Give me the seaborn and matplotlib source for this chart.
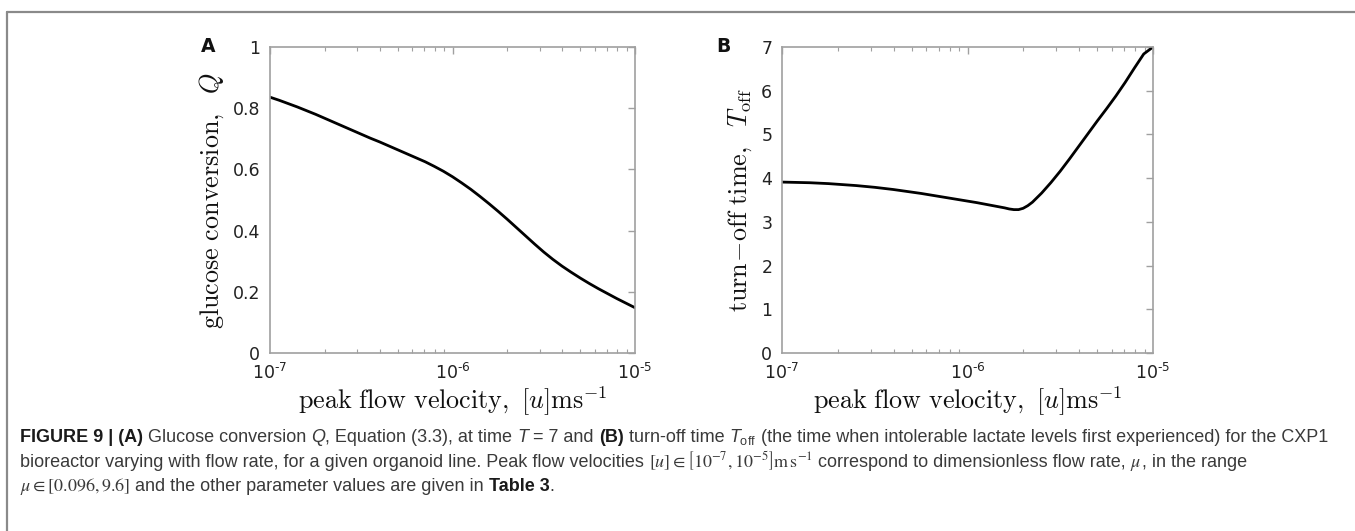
import numpy as np
import pandas as pd
import matplotlib
matplotlib.use("Agg")
import matplotlib.pyplot as plt
import seaborn as sns
from matplotlib.lines import Line2D

# ---------------- data ----------------
log_velocity_A = [-7.00, -6.95, -6.90, -6.85, -6.80, -6.75, -6.70, -6.65, -6.60, -6.55, -6.50,
                  -6.45, -6.40, -6.35, -6.30, -6.25, -6.20, -6.15, -6.10, -6.05, -6.00,
                  -5.95, -5.90, -5.85, -5.80, -5.75, -5.70, -5.65, -5.60, -5.55, -5.50,
                  -5.45, -5.40, -5.35, -5.30, -5.25, -5.20, -5.15, -5.10, -5.05, -5.00]
glucose_conversion = [0.836, 0.826, 0.815, 0.804, 0.792, 0.780, 0.767, 0.754, 0.741, 0.728, 0.715,
                      0.702, 0.690, 0.677, 0.664, 0.651, 0.638, 0.625, 0.610, 0.594, 0.576,
                      0.556, 0.535, 0.512, 0.488, 0.463, 0.437, 0.410, 0.383, 0.356, 0.330,
                      0.306, 0.284, 0.264, 0.245, 0.227, 0.210, 0.194, 0.178, 0.163, 0.148]

log_velocity_B = [-7.00, -6.95, -6.90, -6.85, -6.80, -6.75, -6.70, -6.65, -6.60, -6.55, -6.50,
                  -6.45, -6.40, -6.35, -6.30, -6.25, -6.20, -6.15, -6.10, -6.05, -6.00,
                  -5.95, -5.90, -5.85, -5.80, -5.775, -5.75, -5.725, -5.70, -5.675, -5.65,
                  -5.60, -5.55, -5.50, -5.45, -5.40, -5.35, -5.30, -5.25, -5.20, -5.15,
                  -5.10, -5.05, -5.025, -5.00]
turn_off_time = [3.910, 3.905, 3.900, 3.895, 3.885, 3.875, 3.860, 3.845, 3.830, 3.810, 3.790,
                 3.765, 3.740, 3.710, 3.680, 3.650, 3.615, 3.580, 3.545, 3.510, 3.475,
                 3.440, 3.400, 3.360, 3.320, 3.295, 3.280, 3.280, 3.310, 3.370, 3.450,
                 3.660, 3.900, 4.160, 4.440, 4.730, 5.020, 5.310, 5.590, 5.880, 6.190,
                 6.520, 6.840, 6.920, 7.000]

ylabel_A = r'$\mathrm{glucose\ conversion,}\ \ Q$'
ylabel_B = r'$\mathrm{turn\!-\!off\ time,}\ \ T_{\mathrm{off}}$'
xlabel = r'$\mathrm{peak\ flow\ velocity,}\ [u]\mathrm{ms}^{-1}$'
xtick_labels = [r'$10^{\text{-}7}$', r'$10^{\text{-}6}$', r'$10^{\text{-}5}$']

dfA = pd.DataFrame({"v": [10.0 ** e for e in log_velocity_A], "Q": glucose_conversion})
dfB = pd.DataFrame({"v": [10.0 ** e for e in log_velocity_B], "T": turn_off_time})

# ---------------- style ----------------
sns.set_style("white")
plt.rcParams['font.family'] = ['DejaVu Sans']
plt.rcParams['mathtext.rm'] = 'Liberation Sans'
plt.rcParams['mathtext.it'] = 'Liberation Sans:italic'
plt.rcParams['mathtext.bf'] = 'Liberation Sans:bold'

W, H = 1355, 531
fig = plt.figure(figsize=(W / 100, H / 100), dpi=100)

spine_col = '#a0a0a0'
tick_lab_col = '#222222'


def make_axes(left_px, right_px, top_px, bottom_px):
    return fig.add_axes([left_px / W, 1 - bottom_px / H,
                         (right_px - left_px) / W, (bottom_px - top_px) / H])


axA = make_axes(270, 635, 47, 353)
axB = make_axes(782, 1153, 47, 353)

sns.lineplot(data=dfA, x="v", y="Q", ax=axA, color='black', linewidth=2.0)
sns.lineplot(data=dfB, x="v", y="T", ax=axB, color='black', linewidth=2.0)

for ax, ylim, yticks, ylab in [(axA, (0, 1), [0, 0.2, 0.4, 0.6, 0.8, 1], ylabel_A),
                               (axB, (0, 7), [0, 1, 2, 3, 4, 5, 6, 7], ylabel_B)]:
    ax.set_xscale('log')
    ax.set_xlim(1e-7, 1e-5)
    ax.set_ylim(*ylim)
    ax.set_yticks(yticks)
    ax.set_yticklabels([('%g' % t) for t in yticks])
    ax.set_xticks([1e-7, 1e-6, 1e-5])
    ax.set_xticklabels(xtick_labels)
    ax.xaxis.set_minor_locator(matplotlib.ticker.LogLocator(base=10, subs=np.arange(2, 10)))
    ax.xaxis.set_minor_formatter(matplotlib.ticker.NullFormatter())
    for s in ax.spines.values():
        s.set_visible(True)
        s.set_color(spine_col)
        s.set_linewidth(1.2)
    ax.tick_params(axis='both', which='major', direction='in', top=True, right=True,
                   length=5, width=1, color=spine_col, labelsize=12.5,
                   labelcolor=tick_lab_col)
    ax.tick_params(axis='x', which='major', pad=7)
    ax.tick_params(axis='y', which='major', pad=7)
    ax.tick_params(axis='x', which='minor', direction='in', top=True, bottom=True,
                   length=3, width=0.8, color=spine_col)
    ax.set_xlabel(xlabel, fontsize=18.8, math_fontfamily='cm', labelpad=1, color='#111111')
    ax.set_ylabel(ylab, fontsize=18.8, math_fontfamily='cm', labelpad=5, color='#111111')
    ax.patch.set_facecolor('white')

fig.text(208 / W, 1 - 46 / H, 'A', fontsize=13.5, fontweight='bold', ha='center',
         va='center', color='#111111')
fig.text(723 / W, 1 - 46 / H, 'B', fontsize=13.5, fontweight='bold', ha='center',
         va='center', color='#111111')

# ---------------- frame lines ----------------
frame_col = '#8a8a8a'
fig.add_artist(Line2D([7 / W, 1.0], [1 - 12 / H, 1 - 12 / H], transform=fig.transFigure,
                      color=frame_col, linewidth=1.6))
fig.add_artist(Line2D([7 / W, 7 / W], [0.0, 1 - 12 / H], transform=fig.transFigure,
                      color=frame_col, linewidth=1.6))

# ---------------- caption ----------------
renderer = fig.canvas.get_renderer()
cap_size = 13.0
cap_col = '#3a3a3a'
norm = dict(fontsize=cap_size, color=cap_col, family=['Liberation Sans', 'DejaVu Sans'])
bold = dict(norm, fontweight='bold', color='#1a1a1a')
ital = dict(norm, style='italic')
math = dict(norm, math_fontfamily='custom')
mathc = dict(norm, math_fontfamily='stix')


def text_width(s, kw):
    if s.startswith('$'):
        t = fig.text(0, 0, s, **kw)
        w = t.get_window_extent(renderer).width
        t.remove()
        return w
    t = fig.text(0, 0, s + '|', **kw)
    w1 = t.get_window_extent(renderer).width
    t.remove()
    t = fig.text(0, 0, '|', **kw)
    w2 = t.get_window_extent(renderer).width
    t.remove()
    return w1 - w2


def rich_line(x_px, y_px, pieces):
    x = x_px
    for s, kw in pieces:
        fig.text(x / W, 1 - y_px / H, s, ha='left', va='baseline', **kw)
        x += text_width(s, kw)


rich_line(20, 442, [
    ('FIGURE 9 | (A)', bold), (' Glucose conversion ', norm), ('Q', ital),
    (', Equation (3.3), at time ', norm), ('T', ital), (' = 7 and ', norm),
    ('(B)', bold), (' turn-off time ', norm), (r'$T_{\mathrm{off}}$', math),
    (' (the time when intolerable lactate levels first experienced) for the CXP1', norm)])
rich_line(20, 467, [
    ('bioreactor varying with flow rate, for a given organoid line. Peak flow velocities ', norm),
    (r'$[u]\in\left[10^{-7},10^{-5}\right]\mathrm{m\,s}^{-1}$', mathc),
    (' correspond to dimensionless flow rate, ', norm), (r'$\mu$', mathc),
    (', in the range', norm)])
rich_line(20, 491, [
    (r'$\mu\in[0.096,9.6]$', mathc),
    (' and the other parameter values are given in ', norm), ('Table 3', bold), ('.', norm)])

fig.savefig('out.png', dpi=100, facecolor='white')
